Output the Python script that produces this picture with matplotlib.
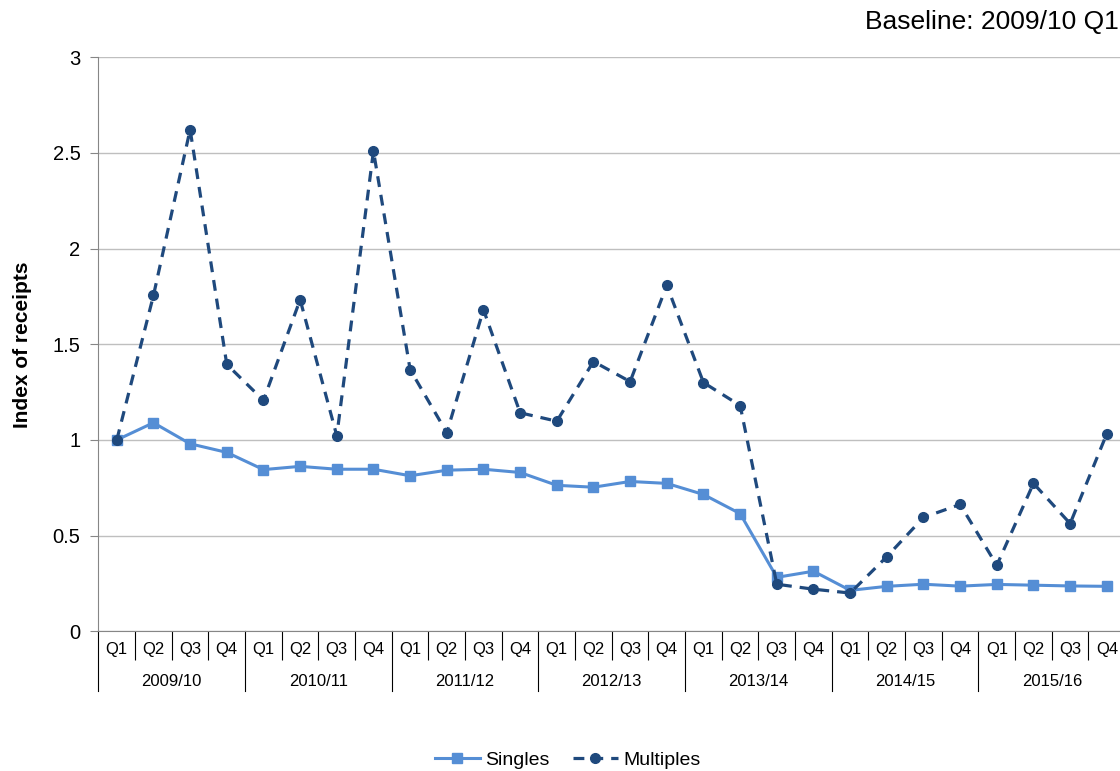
import matplotlib.pyplot as plt
from matplotlib.lines import Line2D

plt.rcParams["font.family"] = ["Liberation Sans", "DejaVu Sans"]

# Data
years = ["2009/10", "2010/11", "2011/12", "2012/13", "2013/14", "2014/15", "2015/16"]
quarters = ["Q1", "Q2", "Q3", "Q4"]

singles = [1.00, 1.09, 0.98, 0.935,
           0.845, 0.862, 0.847, 0.847,
           0.813, 0.842, 0.847, 0.830,
           0.763, 0.753, 0.783, 0.773,
           0.715, 0.615, 0.282, 0.314,
           0.214, 0.235, 0.246, 0.236,
           0.245, 0.241, 0.237, 0.235]

multiples = [1.00, 1.755, 2.622, 1.395,
             1.207, 1.733, 1.022, 2.510,
             1.368, 1.038, 1.681, 1.142,
             1.098, 1.410, 1.305, 1.808,
             1.300, 1.180, 0.246, 0.220,
             0.200, 0.390, 0.595, 0.663,
             0.345, 0.773, 0.563, 1.033]

n = len(singles)
x = list(range(n))
q_labels = [quarters[i % 4] for i in x]

fig = plt.figure(figsize=(11.2, 7.71), dpi=100)
ax = fig.add_axes([0.0879, 0.1812, 0.9167, 0.7445])

ax.plot(x, singles, color="#558ed5", lw=2.2, marker="s", ms=7, label="Singles")
ax.plot(x, multiples, color="#1f497d", lw=2.3, ls=(0, (3.4, 2.5)), marker="o", ms=7,
        label="Multiples")

ax.set_xlim(-0.5, n - 0.5)
ax.set_ylim(0, 3)
ax.set_yticks([0, 0.5, 1, 1.5, 2, 2.5, 3])
ax.set_yticklabels(["0", "0.5", "1", "1.5", "2", "2.5", "3"])
ax.yaxis.grid(True, color="#bfbfbf", lw=1)
ax.set_axisbelow(True)

for s in ["top", "right"]:
    ax.spines[s].set_visible(False)
ax.spines["left"].set_color("#868686")
ax.spines["bottom"].set_color("#868686")
ax.tick_params(axis="y", length=6, color="#868686", labelsize=14.5, pad=7)

# quarter labels and separators
ax.set_xticks(x)
ax.set_xticklabels(q_labels, fontsize=12)
ax.tick_params(axis="x", which="major", length=0, pad=8)
ax.set_xticks([i - 0.5 for i in range(n + 1) if i % 4 != 0], minor=True)
ax.tick_params(axis="x", which="minor", length=21, color="black", width=0.8)

trans = ax.get_xaxis_transform()
px = 1 / 574.0
for k, yr in enumerate(years):
    ax.text(k * 4 + 1.5, -50 * px, yr, transform=trans, ha="center", va="center",
            fontsize=12)
for k in range(len(years) + 1):
    ax.add_line(Line2D([k * 4 - 0.5, k * 4 - 0.5], [0, -60 * px], transform=trans,
                       color="black", lw=0.8, clip_on=False))

ax.set_ylabel("Index of receipts", fontsize=15, fontweight="bold", labelpad=15)

fig.text(0.999, 0.9624, "Baseline: 2009/10 Q1", ha="right", va="baseline", fontsize=19)

fig.legend(loc="center", bbox_to_anchor=(0.507, 0.0143), ncol=2, frameon=False,
           fontsize=14, handlelength=2.3, columnspacing=1.2, handletextpad=0.3)

fig.savefig("out.png", dpi=100)
